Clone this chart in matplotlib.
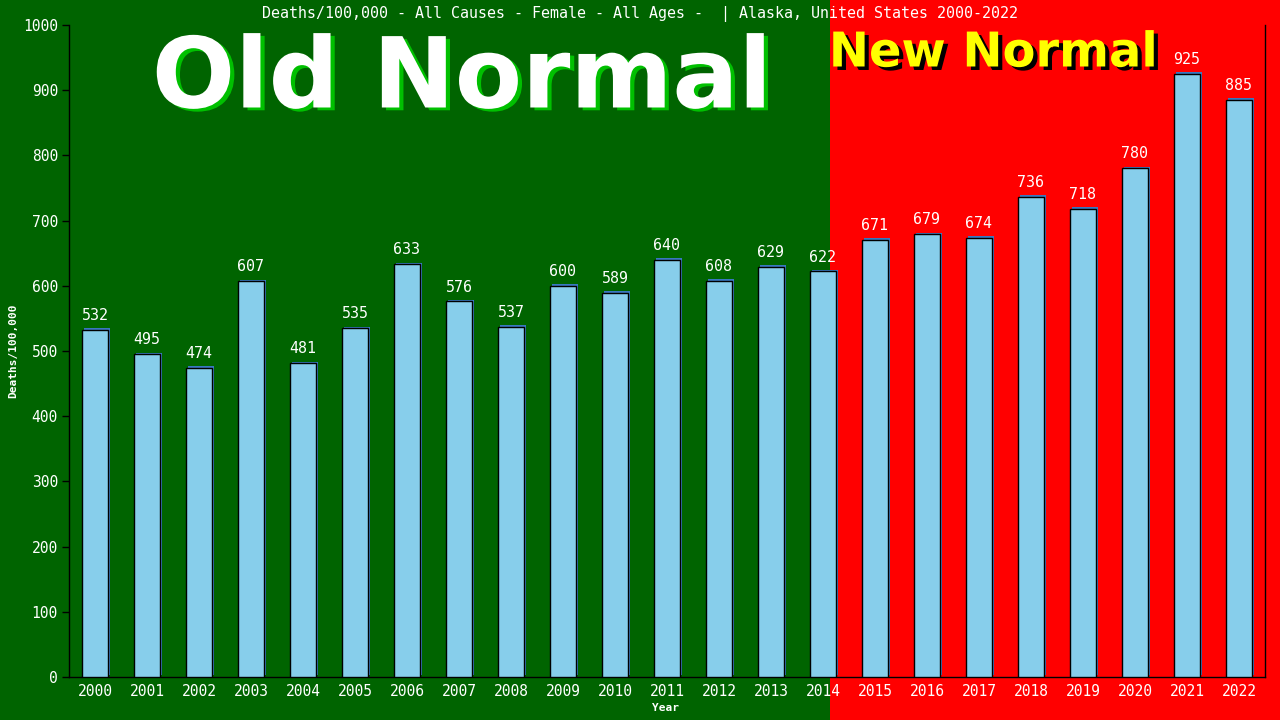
import matplotlib
matplotlib.use('Agg')
import matplotlib.pyplot as plt
import matplotlib.patheffects as pe
from matplotlib.patches import Rectangle

years = [str(y) for y in range(2000, 2023)]
values = [532, 495, 474, 607, 481, 535, 633, 576, 537, 600, 589, 640, 608,
          629, 622, 671, 679, 674, 736, 718, 780, 925, 885]
yticks = list(range(0, 1001, 100))
title = "Deaths/100,000 - All Causes - Female - All Ages -  | Alaska, United States 2000-2022"

W, H = 1280, 720
fig = plt.figure(figsize=(12.8, 7.2), dpi=100)
split = 830 / W
fig.patches.append(Rectangle((0, 0), split, 1, transform=fig.transFigure,
                             facecolor='#006400', edgecolor='none', zorder=-10))
fig.patches.append(Rectangle((split, 0), 1 - split, 1, transform=fig.transFigure,
                             facecolor='#ff0000', edgecolor='none', zorder=-10))

ax = fig.add_axes([69 / W, 43 / H, (1265 - 69) / W, (677 - 25) / H])
ax.set_facecolor('none')

mono = 'DejaVu Sans Mono'
xs = list(range(len(years)))
bars = ax.bar(xs, values, width=0.5, color='#87ceeb', edgecolor='black',
              linewidth=1.0, zorder=3)
for b in bars:
    b.set_path_effects([pe.SimplePatchShadow(offset=(1.2, 1.2), shadow_rgbFace='#3a78c0', alpha=1),
                        pe.Normal()])

for x, v in zip(xs, values):
    ax.annotate(str(v), (x, v), xytext=(0, 5), textcoords='offset points',
                ha='center', va='bottom', color='white', fontsize=10.8,
                family=mono, zorder=4)

ax.set_xlim(-0.5, len(years) - 0.5)
ax.set_ylim(0, 1000)
ax.set_yticks(yticks)
ax.set_yticklabels([str(t) for t in yticks])
ax.set_xticks(xs)
ax.set_xticklabels(years)
ax.tick_params(axis='y', colors='black', labelcolor='white', length=5, width=1,
               labelsize=10.5, pad=3)
ax.tick_params(axis='x', length=0, labelcolor='white', labelsize=10.5, pad=5)
for lab in ax.get_xticklabels() + ax.get_yticklabels():
    lab.set_family(mono)
for s in ['left', 'bottom', 'right']:
    ax.spines[s].set_color('black')
    ax.spines[s].set_linewidth(1)
ax.spines['top'].set_visible(False)

ax.set_ylabel('Deaths/100,000', color='white', fontsize=8, family=mono,
              fontweight='bold')
ax.yaxis.set_label_coords(-(69 - 18) / (1265 - 69), 0.5)
ax.set_xlabel('Year', color='white', fontsize=8, family=mono, fontweight='bold')
ax.xaxis.set_label_coords((666 - 69) / (1265 - 69), -(703 - 677) / (677 - 25))

fig.text(640 / W, 1 - 14 / H, title, ha='center', va='center', color='white',
         fontsize=10.8, family=mono)

fig.text(462 / W, 1 - 80 / H, 'Old Normal', ha='center', va='center',
         color='white', fontsize=70.5, fontweight='bold', family='DejaVu Sans',
         path_effects=[pe.withSimplePatchShadow(offset=(3, -2), shadow_rgbFace='#00c000', alpha=1)])
fig.text(993 / W, 1 - 53 / H, 'New Normal', ha='center', va='center',
         color='#ffff00', fontsize=34.5, fontweight='bold', family='DejaVu Sans',
         path_effects=[pe.withSimplePatchShadow(offset=(3, -2.5), shadow_rgbFace='black', alpha=1)])

fig.savefig('out.png', dpi=100)
